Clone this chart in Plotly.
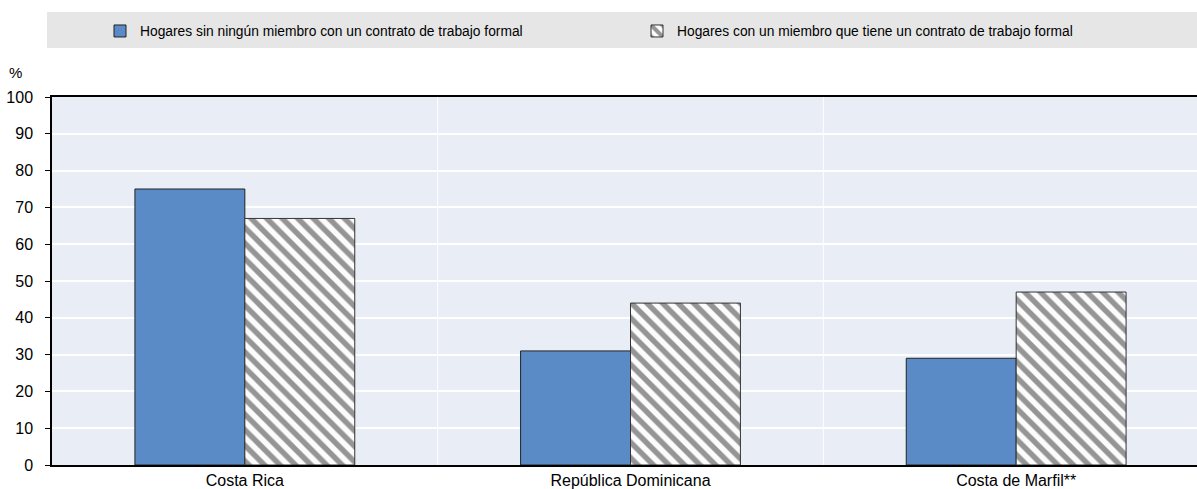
import plotly.graph_objects as go

categories = ["Costa Rica", "República Dominicana", "Costa de Marfil**"]
series_names = ["Hogares sin ningún miembro con un contrato de trabajo formal",
                "Hogares con un miembro que tiene un contrato de trabajo formal"]
values_sin = [75, 31, 29]
values_con = [67, 44, 47]
y_ticks = [0, 10, 20, 30, 40, 50, 60, 70, 80, 90, 100]

# canvas slightly wider than the 1197px window: the reference plot is clipped on the right
W, H = 1209, 489
L, R, T, B = 52, 0, 97, 24
pw, ph = W - L - R, H - T - B

def px_x(p):
    return (p - L) / pw

def px_y(p):
    return 1 + (T - p) / ph

FONT = "Liberation Sans, Arial"
FS = 13.8
TFS = 16

fig = go.Figure()
fig.add_trace(go.Bar(
    x=categories, y=values_sin, name=series_names[0], legend="legend",
    marker=dict(color="#5b8bc6", line=dict(color="#222222", width=1)),
))
fig.add_trace(go.Bar(
    x=categories, y=values_con, name=series_names[1], legend="legend2",
    marker=dict(color="#ffffff", line=dict(color="#333333", width=1),
                pattern=dict(shape="\\", fgcolor="#2e2e2e", bgcolor="#fcfcfc",
                             size=11, solidity=0.5)),
))

# grey legend band
fig.add_shape(type="rect", xref="paper", yref="paper",
              x0=px_x(47), x1=px_x(W), y0=px_y(48), y1=px_y(12),
              fillcolor="#e6e6e6", line=dict(width=0), layer="below")
# vertical separators between categories
for xv in [0.5, 1.5]:
    fig.add_shape(type="line", xref="x", yref="paper", x0=xv, x1=xv, y0=0, y1=1,
                  line=dict(color="#ffffff", width=1), layer="below")

fig.add_annotation(text="%", xref="paper", yref="paper", x=px_x(15), y=px_y(73),
                   xanchor="center", yanchor="middle", showarrow=False,
                   font=dict(family=FONT, size=15, color="#000"))

leg_common = dict(orientation="h", yanchor="middle", xanchor="left",
                  bgcolor="rgba(0,0,0,0)", font=dict(family=FONT, size=FS, color="#000"),
                  itemwidth=30)

fig.update_layout(
    width=W, height=H,
    margin=dict(l=L, r=R, t=T, b=B, autoexpand=False),
    plot_bgcolor="#e9edf6", paper_bgcolor="#ffffff",
    barmode="group", bargap=0.43, bargroupgap=0,
    font=dict(family=FONT, size=FS, color="#000"),
    showlegend=True,
    legend=dict(x=px_x(100), y=px_y(31), **leg_common),
    legend2=dict(x=px_x(637), y=px_y(31), **leg_common),
    xaxis=dict(range=[-0.5, 2.5], showgrid=False, showline=True,
               linecolor="#000", linewidth=2, mirror=True, ticks="",
               tickfont=dict(size=TFS), automargin=False),
    yaxis=dict(range=[0, 100], tickvals=y_ticks, showgrid=True, gridcolor="#ffffff",
               gridwidth=1.5, showline=True, linecolor="#000", linewidth=1.5,
               ticks="outside", ticklen=5, tickcolor="#000", zeroline=False,
               ticklabelstandoff=9, tickfont=dict(size=TFS), automargin=False),
)

fig.write_html("out.html", config={"displayModeBar": False},
               post_script="document.body.style.margin='0px';document.body.style.overflow='hidden';")
